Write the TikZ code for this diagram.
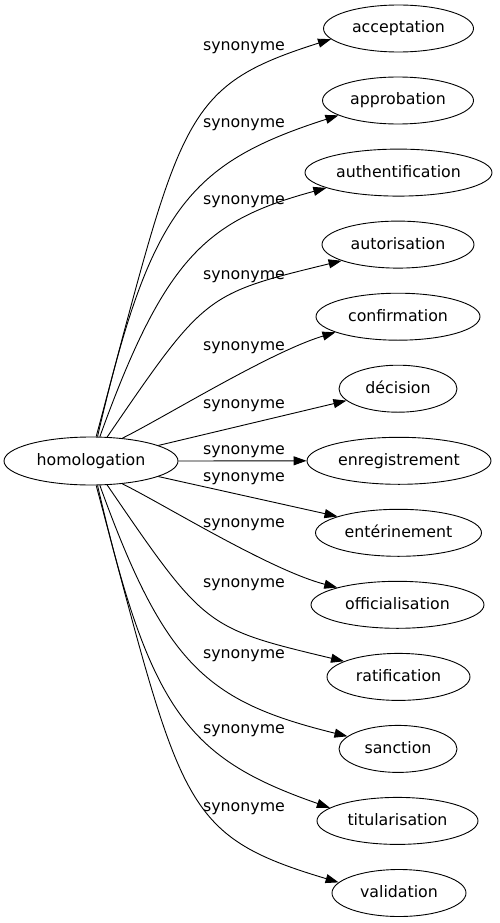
\documentclass[tikz,border=0pt]{standalone}
\usepackage{fontspec}
\setmainfont{DejaVu Sans}
\usetikzlibrary{arrows.meta,shapes.geometric}
\begin{document}
\begin{tikzpicture}[x=1pt,y=-1pt,
  every node/.style={font=\fontsize{15.8}{19}\selectfont},
  term/.style={draw, ellipse, line width=0.9pt, inner sep=0pt, minimum height=47pt, text height=12pt, text depth=3pt},
  lbl/.style={anchor=base, inner sep=0pt},
  syn/.style={line width=0.9pt, -{Triangle[length=13pt,width=9pt]}}]
\useasboundingbox (0,0) rectangle (499,923);
\node[term, minimum width=174pt, minimum height=48pt] (homologation) at (91,461) {homologation};
\node[term, minimum width=150pt] (acceptation) at (398.5,28.5) {acceptation};
\node[term, minimum width=151pt] (approbation) at (398,100.5) {approbation};
\node[term, minimum width=187pt] (authentification) at (398.5,172.6) {authentification};
\node[term, minimum width=152pt] (autorisation) at (398,244.6) {autorisation};
\node[term, minimum width=164pt] (confirmation) at (398,316.7) {confirmation};
\node[term, minimum width=118pt] (decision) at (398,388.7) {décision};
\node[term, minimum width=184pt] (enregistrement) at (399,460.8) {enregistrement};
\node[term, minimum width=166pt] (enterinement) at (398.5,532.8) {entérinement};
\node[term, minimum width=173pt] (officialisation) at (397.5,604.8) {officialisation};
\node[term, minimum width=143pt] (ratification) at (398.5,676.9) {ratification};
\node[term, minimum width=118pt] (sanction) at (398,748.9) {sanction};
\node[term, minimum width=161pt] (titularisation) at (397.5,820.9) {titularisation};
\node[term, minimum width=134pt] (validation) at (399,893) {validation};

\node[lbl] (l1) at (244,50.5) {synonyme};
\node[lbl] (l2) at (244,127.5) {synonyme};
\node[lbl] (l3) at (244,204.5) {synonyme};
\node[lbl] (l4) at (244,279.5) {synonyme};
\node[lbl] (l5) at (244,350.5) {synonyme};
\node[lbl] (l6) at (244,408.5) {synonyme};
\node[lbl] (l7) at (244,454.5) {synonyme};
\node[lbl] (l8) at (244,481.5) {synonyme};
\node[lbl] (l9) at (244,527.5) {synonyme};
\node[lbl] (l10) at (244,587.5) {synonyme};
\node[lbl] (l11) at (244,658.5) {synonyme};
\node[lbl] (l12) at (244,733.5) {synonyme};
\node[lbl] (l13) at (244,811.5) {synonyme};

\draw[syn] (homologation.78.9) .. controls (182,116) and (180,87) .. (acceptation.189.9);
\draw[syn] (homologation.75.3) .. controls (150,210) and (188.4,163.5) .. (approbation.194.3);
\draw[syn] (homologation.70.8) .. controls (165,256) and (207.1,220.3) .. (authentification.192.9);
\draw[syn] (homologation.56.4) .. controls (205,294) .. (autorisation.196.6);
\draw[syn] (homologation.36.2) .. controls (165,417) and (270,352) .. (confirmation.194.7);
\draw[syn] (homologation.13.3) -- (decision.193.2);
\draw[syn] (homologation.east) -- (enregistrement.west);
\draw[syn] (homologation.-13.3) -- (enterinement.165.5);
\draw[syn] (homologation.-36.2) .. controls (165,505) and (270,570) .. (officialisation.164.4);
\draw[syn] (homologation.-56.4) .. controls (205,628) .. (ratification.164.2);
\draw[syn] (homologation.-70.8) .. controls (165,666) and (207.1,701.7) .. (sanction.166.4);
\draw[syn] (homologation.-75.3) .. controls (150,712) and (188.4,758.5) .. (titularisation.169.5);
\draw[syn] (homologation.-78.9) .. controls (182,806) and (180,835) .. (validation.170.7);
\end{tikzpicture}
\end{document}
